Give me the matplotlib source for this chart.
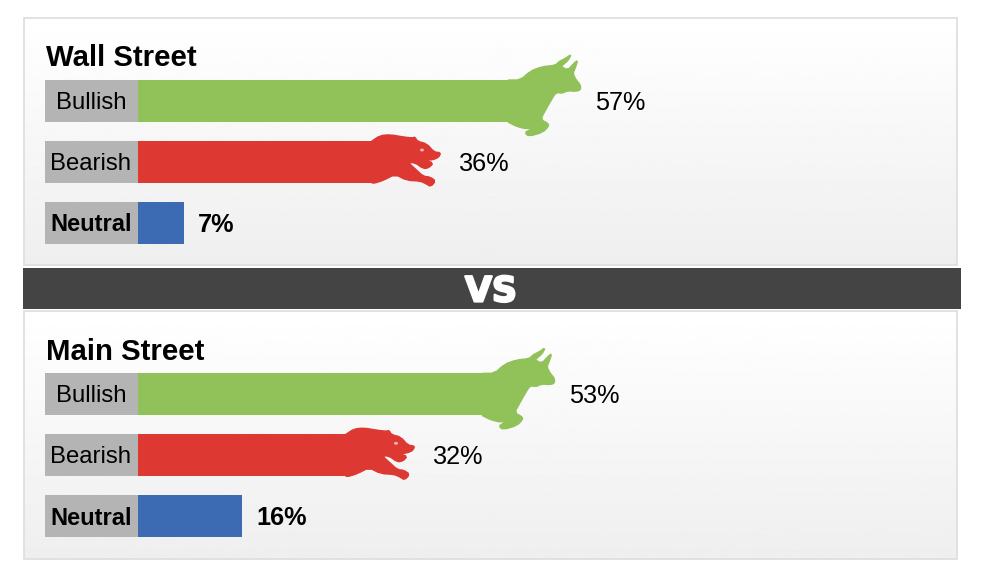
import numpy as np
import matplotlib
matplotlib.use("Agg")
import matplotlib.pyplot as plt
import matplotlib.patheffects as pe
from matplotlib.patches import Polygon, Rectangle, Ellipse

plt.rcParams['font.family'] = ['Liberation Sans', 'DejaVu Sans']

categories = ["Bullish", "Bearish", "Neutral"]
panel_titles = ["Wall Street", "Main Street"]
wall_street = [57, 36, 7]
main_street = [53, 32, 16]
middle_label = "VS"

COLORS = ["#91c25a", "#dd3831", "#3c6bb3"]
GREY = "#b4b4b4"
W, H = 1000, 581
PX_PER_PCT = 6.5
PX_PER_CAT = 61.0

# animal silhouettes, in pixels relative to the bar end / bar centre
BULL = np.array([(84,120),(120,120),(150,93),(185,80),(225,76),(235,65),(255,55),(272,43),(264,60),
    (247,75),(242,80),(262,90),(280,70),(292,60),(284,85),(277,100),(287,120),(300,135),(300,150),
    (285,154),(262,152),(245,160),(227,157),(214,177),(197,207),(180,238),(202,250),(205,258),
    (187,277),(145,289),(133,278),(150,268),(175,265),(178,260),(140,267),(110,260),(84,247)], float)
BULL = (BULL - [84, 183]) / 3
BEAR = np.array([(96,62),(120,46),(150,43),(190,50),(218,53),(225,50),(232,63),(260,70),(282,95),
    (302,97),(297,110),(280,118),(256,120),(280,128),(267,142),(250,145),(225,127),(205,127),
    (225,145),(250,168),(270,170),(287,182),(272,199),(258,190),(240,182),(200,180),(165,162),
    (130,180),(105,188),(96,188)], float)
BEAR = (BEAR - [96, 125]) / 3


def soften(p):
    """One corner-cutting pass, keeping the first and last point on the bar end."""
    q = [p[0]]
    for a, b in zip(p[:-1], p[1:]):
        q += [a * 0.75 + b * 0.25, a * 0.25 + b * 0.75]
    q.append(p[-1])
    return np.array(q)


fig = plt.figure(figsize=(W / 100, H / 100), dpi=100, facecolor="white")
bg = fig.add_axes([0, 0, 1, 1])
bg.axis("off")

grad = np.linspace(1.0, 0.935, 256).reshape(-1, 1)
for top, bottom in [(18, 265), (311, 559)]:
    bg.imshow(grad, extent=(23.5, 956.5, bottom, top), cmap="gray", vmin=0, vmax=1,
              aspect="auto", zorder=1)
    bg.add_patch(Rectangle((23.5, top), 933, bottom - top, fill=False,
                           edgecolor="#dddddd", lw=1.2, zorder=2))
bg.set_xlim(0, W)
bg.set_ylim(H, 0)
bg.add_patch(Rectangle((23, 268), 938, 41, facecolor="#444444", edgecolor="none", zorder=3))
t = bg.text(491, 301.5, middle_label, color="white", fontsize=25, fontweight="bold",
            family="DejaVu Sans", ha="center", va="baseline", zorder=4)
t.set_path_effects([pe.withStroke(linewidth=1.6, foreground="white")])


def panel(values, title, top_center):
    bottom_px = top_center + 2.5 * PX_PER_CAT
    ax = fig.add_axes([138 / W, 1 - bottom_px / H, 800 / W, 3 * PX_PER_CAT / H])
    ax.patch.set_alpha(0)
    ax.set_xlim(0, 800 / PX_PER_PCT)
    ax.set_ylim(2.5, -0.5)
    ax.axis("off")
    h = 42 / PX_PER_CAT
    ys = np.arange(len(categories))
    ax.barh(ys, values, height=h, color=COLORS, linewidth=0, zorder=2)
    ax.barh(ys, [93 / PX_PER_PCT] * 3, left=-93 / PX_PER_PCT, height=h, color=GREY,
            linewidth=0, clip_on=False, zorder=2)
    text_dy = 1.8 / PX_PER_CAT
    for i, (cat, v) in enumerate(zip(categories, values)):
        bold = cat == "Neutral"
        ax.text(-47 / PX_PER_PCT, i + text_dy, cat, ha="center", va="center",
                fontsize=17 if bold else 17.2,
                fontweight="bold" if bold else "normal", color="black")
        shape = {0: BULL, 1: BEAR}.get(i)
        off = 14.5
        if shape is not None:
            s = soften(shape)
            pts = np.column_stack([v + s[:, 0] / PX_PER_PCT, i + s[:, 1] / PX_PER_CAT])
            ax.add_patch(Polygon(pts, closed=True, facecolor=COLORS[i], edgecolor=COLORS[i],
                                 lw=1.0, zorder=3, clip_on=False))
            off = 87
        if i == 1:
            ax.add_patch(Ellipse((v + 50 / PX_PER_PCT, i - 12 / PX_PER_CAT), 4 / PX_PER_PCT,
                                 3 / PX_PER_CAT, facecolor="#f3b0a8", edgecolor="none", zorder=4))
        ax.text(v + off / PX_PER_PCT, i + text_dy, f"{v}%", ha="left", va="center",
                fontsize=18.2, fontweight="bold" if bold else "normal", color="black")
    bg.text(45.5, top_center - 45 + 2.5, title, fontsize=21.2, fontweight="bold", ha="left",
            va="center", color="black", zorder=4)


panel(wall_street, panel_titles[0], 101)
panel(main_street, panel_titles[1], 394.3)

fig.savefig("out.png", dpi=100, facecolor="white")
